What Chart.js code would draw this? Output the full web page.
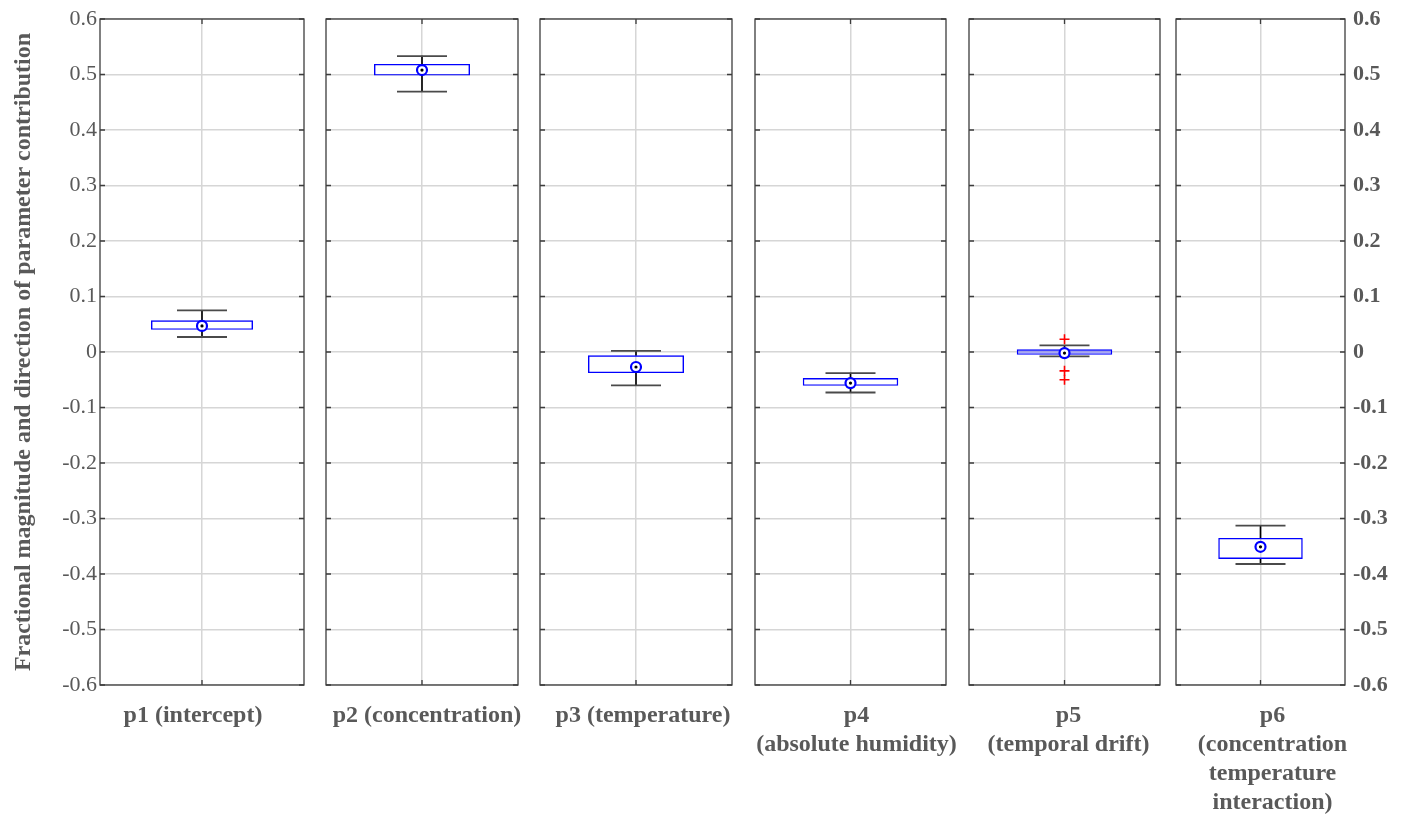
<!DOCTYPE html>
<html>
<head>
<meta charset="utf-8">
<script src="https://cdn.jsdelivr.net/npm/chart.js@4.4.0/dist/chart.umd.min.js"></script>
<style>
  html, body { margin: 0; padding: 0; background: #fff; }
  #wrap { position: relative; width: 1408px; height: 817px; overflow: hidden; }
  .panel { position: absolute; top: 0; height: 817px; }
</style>
</head>
<body>
<div id="wrap"></div>
<script>
// parameter names (multi-line labels as arrays)
const paramLabels = [
  ['p1 (intercept)'],
  ['p2 (concentration)'],
  ['p3 (temperature)'],
  ['p4', '(absolute humidity)'],
  ['p5', '(temporal drift)'],
  ['p6', '(concentration', 'temperature', 'interaction)']
];
// box plot stats
const boxLow      = [0.040, 0.498, -0.038, -0.061, -0.005, -0.373];
const boxHigh     = [0.057, 0.519, -0.006, -0.047,  0.005, -0.335];
const medians     = [0.047, 0.508, -0.027, -0.056, -0.002, -0.351];
const whiskerLow  = [0.027, 0.469, -0.060, -0.073, -0.008, -0.382];
const whiskerHigh = [0.075, 0.533,  0.002, -0.038,  0.012, -0.313];
const outliers    = [[], [], [], [], [0.023, -0.034, -0.050], []];

const yTicks = [-0.6, -0.5, -0.4, -0.3, -0.2, -0.1, 0, 0.1, 0.2, 0.3, 0.4, 0.5, 0.6];
const yTickLabels = ['-0.6', '-0.5', '-0.4', '-0.3', '-0.2', '-0.1', '0', '0.1', '0.2', '0.3', '0.4', '0.5', '0.6'];
const yTitle = 'Fractional magnitude and direction of parameter contribution';

// panel left/right edges in page pixels, and small nudges of the bottom labels
const panels = [[100, 304], [326, 518], [540, 732], [755, 946], [969, 1160], [1176, 1345]];
const labelNudge = [-9, 5, 7, 6, 4, 12];
const sidePad = 30; // spare room so the bottom labels are not clipped
const textGray = '#595959';
const serif = "'Liberation Serif', 'Times New Roman', serif";

const framePlugin = {
  id: 'frame',
  afterDraw(chart) {
    const { ctx, chartArea: a } = chart;
    const ys = chart.scales.y;
    ctx.save();
    ctx.strokeStyle = '#3c3c3c';
    ctx.lineWidth = 1.3;
    ctx.strokeRect(a.left, a.top, a.right - a.left, a.bottom - a.top);
    ctx.beginPath();
    ys.ticks.forEach(t => {
      const py = ys.getPixelForValue(t.value);
      ctx.moveTo(a.left, py); ctx.lineTo(a.left + 5, py);
      ctx.moveTo(a.right, py); ctx.lineTo(a.right - 5, py);
    });
    const cx = chart.scales.x.getPixelForValue(0);
    ctx.moveTo(cx, a.bottom); ctx.lineTo(cx, a.bottom - 5);
    ctx.moveTo(cx, a.top); ctx.lineTo(cx, a.top + 5);
    ctx.stroke();
    ctx.restore();
  }
};

// keep the plot box exactly where the panel is, labels may overflow
const noLabelPadding = s => {
  s.paddingLeft = 0; s.paddingRight = 0; s.paddingTop = 0; s.paddingBottom = 0;
};

const wrap = document.getElementById('wrap');

panels.forEach((p, i) => {
  const first = i === 0;
  const last = i === panels.length - 1;
  const divLeft = first ? 0 : p[0] - sidePad;
  const divRight = last ? 1408 : p[1] + sidePad;
  const yWidth = first ? p[0] : (last ? 1408 - p[1] : 0);

  const div = document.createElement('div');
  div.className = 'panel';
  div.style.left = divLeft + 'px';
  div.style.width = (divRight - divLeft) + 'px';
  const canvas = document.createElement('canvas');
  div.appendChild(canvas);
  wrap.appendChild(div);

  const pointSet = (vals, extra) => ({
    type: 'line', data: vals, showLine: false, ...extra
  });

  const datasets = [
    // median dot on top
    pointSet([medians[i]], { order: 0, pointStyle: 'circle', pointRadius: 1.6,
      pointBackgroundColor: '#000', pointBorderWidth: 0 }),
    pointSet([medians[i]], { order: 1, pointStyle: 'circle', pointRadius: 5,
      pointBackgroundColor: '#fff', pointBorderColor: '#0000ff', pointBorderWidth: 2.2 }),
    ...outliers[i].map(v => pointSet([v], { order: 2, pointStyle: 'cross', pointRadius: 5,
      pointBorderColor: '#ff0000', pointBorderWidth: 1.6 })),
    {
      type: 'bar', order: 3, data: [[boxLow[i], boxHigh[i]]],
      backgroundColor: i === 4 ? 'rgba(90,90,255,0.45)' : 'rgba(0,0,0,0)',
      borderColor: '#0000ff', borderWidth: 1.4, borderSkipped: false,
      barPercentage: 0.5, categoryPercentage: 1, grouped: false
    },
    pointSet([whiskerHigh[i]], { order: 4, pointStyle: 'line', pointRadius: 25,
      pointBorderColor: '#4a4a4a', pointBorderWidth: 1.8 }),
    pointSet([whiskerLow[i]], { order: 4, pointStyle: 'line', pointRadius: 25,
      pointBorderColor: '#4a4a4a', pointBorderWidth: 1.8 }),
    { type: 'bar', order: 5, data: [[boxHigh[i], whiskerHigh[i]]], backgroundColor: '#000',
      barThickness: 1, grouped: false },
    { type: 'bar', order: 5, data: [[whiskerLow[i], boxLow[i]]], backgroundColor: '#000',
      barThickness: 1, grouped: false }
  ];

  new Chart(canvas, {
    type: 'bar',
    data: { labels: [paramLabels[i]], datasets },
    plugins: [framePlugin],
    options: {
      responsive: true,
      maintainAspectRatio: false,
      animation: false,
      devicePixelRatio: 1,
      layout: {
        autoPadding: false,
        padding: { top: 19, bottom: 0, left: first ? 0 : sidePad, right: last ? 0 : sidePad }
      },
      plugins: { legend: { display: false }, tooltip: { enabled: false } },
      scales: {
        x: {
          type: 'category',
          offset: true,
          grid: { offset: false, color: '#d6d6d6', lineWidth: 1.5, drawTicks: false },
          border: { display: false },
          ticks: {
            color: textGray, padding: 16, maxRotation: 0, autoSkip: false,
            labelOffset: labelNudge[i],
            font: { family: serif, size: 24, weight: 'bold', lineHeight: 1.21 }
          },
          afterFit: s => { s.height = 817 - 685; noLabelPadding(s); }
        },
        y: {
          position: last ? 'right' : 'left',
          min: -0.6, max: 0.6,
          afterBuildTicks: s => { s.ticks = yTicks.map(v => ({ value: v })); },
          grid: { color: '#d6d6d6', lineWidth: 1.5, drawTicks: false },
          border: { display: false },
          ticks: {
            display: first || last,
            color: textGray,
            padding: last ? 8 : 3,
            font: { family: serif, size: 22, weight: last ? 'bold' : 'normal' },
            callback: (v, idx) => yTickLabels[idx]
          },
          title: {
            display: first,
            text: yTitle,
            color: textGray,
            padding: { top: 9, bottom: 0 },
            font: { family: serif, size: 24, weight: 'bold', lineHeight: 1.2 }
          },
          afterFit: s => { s.width = yWidth; noLabelPadding(s); }
        }
      }
    }
  });
});
</script>
</body>
</html>
